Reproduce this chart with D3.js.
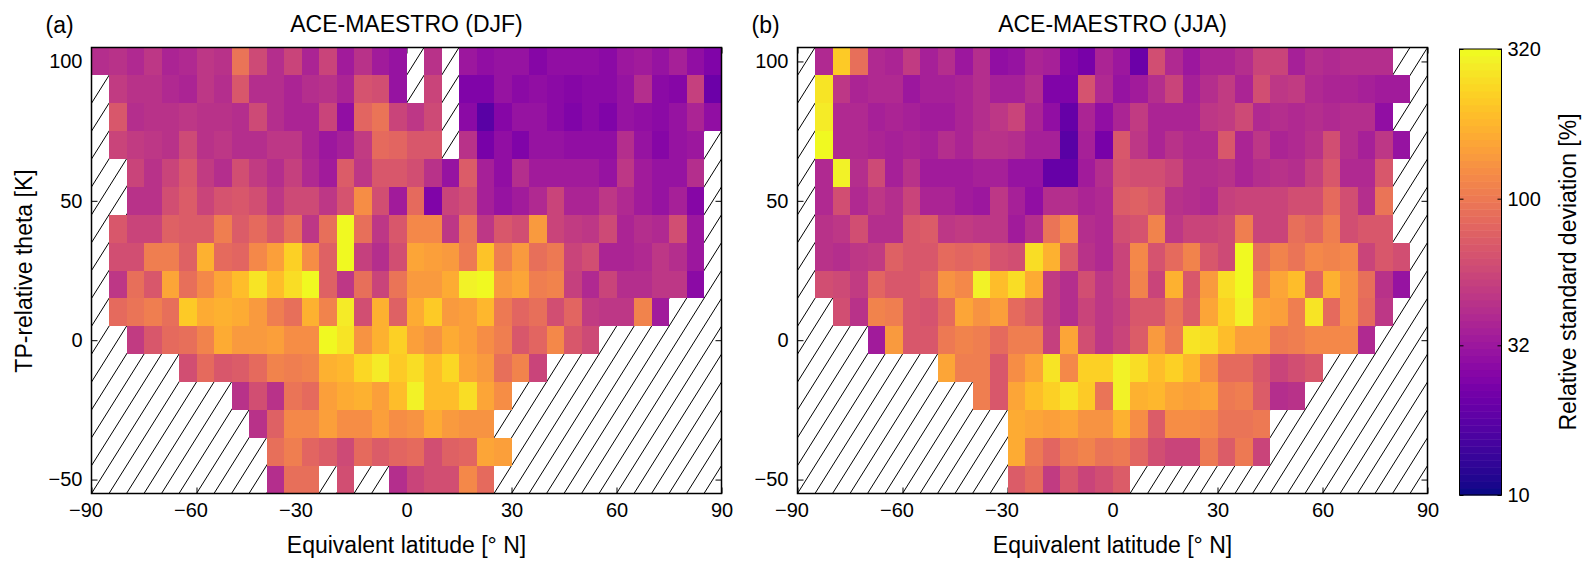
<!DOCTYPE html>
<html>
<head>
<meta charset="utf-8">
<script src="https://cdnjs.cloudflare.com/ajax/libs/d3/7.8.5/d3.min.js"></script>
<style>
  html, body { margin: 0; padding: 0; background: #fff; }
  svg { display: block; font-family: "Liberation Sans", Arial, sans-serif; }
  svg text { fill: #000; }
</style>
</head>
<body>
<div class="container"></div>
<script>
var _ = null;

// bin centres
var latCentres = [-87.5,-82.5,-77.5,-72.5,-67.5,-62.5,-57.5,-52.5,-47.5,-42.5,-37.5,-32.5,-27.5,-22.5,-17.5,-12.5,-7.5,-2.5,
                  2.5,7.5,12.5,17.5,22.5,27.5,32.5,37.5,42.5,47.5,52.5,57.5,62.5,67.5,72.5,77.5,82.5,87.5];
var thetaCentres = [100,90,80,70,60,50,40,30,20,10,0,-10,-20,-30,-40,-50];

var latTicks = [-90,-60,-30,0,30,60,90];
var thetaTicks = [-50,0,50,100];
var colorTicks = [10,32,100,320];

// relative standard deviation [%], one row per theta bin, top row first
var djf = [
  [42,45,39,46,38,39,48,45,95,58,42,55,38,56,34,45,34,30,_,44,_,32,28,30,30,26,28,28,28,27,32,34,30,35,29,25],
  [_,50,44,44,40,38,47,42,68,43,43,38,41,45,38,65,62,30,_,56,_,24,25,30,27,29,27,26,27,27,30,41,27,26,52,21],
  [_,68,42,44,45,48,44,44,42,58,42,37,37,55,28,80,93,55,47,58,_,27,18,26,30,30,27,24,27,25,31,29,27,30,37,28],
  [_,54,49,47,45,58,45,46,42,42,47,48,38,32,35,50,85,82,68,70,_,45,23,28,25,31,30,28,29,28,42,31,26,31,32,_],
  [_,_,55,45,54,70,50,43,60,50,42,52,39,33,72,48,68,68,60,45,31,72,36,28,42,34,33,33,33,30,46,34,30,30,42,_],
  [_,_,44,44,60,72,55,65,68,62,46,58,58,46,65,125,63,33,85,24,55,60,36,30,33,40,55,38,37,46,40,34,31,35,26,_],
  [_,68,56,55,78,72,72,108,72,85,70,88,46,88,315,88,47,68,120,118,46,97,48,70,60,140,54,50,46,57,37,42,39,60,32,_],
  [_,60,62,105,105,75,170,85,80,115,145,225,125,77,320,52,42,62,150,148,135,98,200,105,142,92,100,55,60,38,38,40,48,43,32,_],
  [_,47,88,70,150,90,120,150,195,270,195,250,315,78,48,90,56,95,135,140,165,300,320,140,155,103,112,52,40,54,42,43,46,46,27,_],
  [_,85,97,103,90,210,165,172,163,140,108,88,172,113,285,62,172,78,165,215,135,145,185,98,80,88,63,82,50,47,46,110,33,_,_,_],
  [_,_,50,70,85,88,112,165,137,138,145,122,122,310,270,130,170,225,145,128,160,145,125,108,70,80,115,70,57,_,_,_,_,_,_,_],
  [_,_,_,_,_,60,85,70,72,85,112,108,112,168,182,235,285,215,250,195,240,155,135,90,112,55,_,_,_,_,_,_,_,_,_,_],
  [_,_,_,_,_,_,_,_,45,63,45,95,85,145,160,172,143,190,290,190,195,245,155,122,_,_,_,_,_,_,_,_,_,_,_,_],
  [_,_,_,_,_,_,_,_,_,44,78,115,115,145,122,125,143,125,130,165,140,130,128,_,_,_,_,_,_,_,_,_,_,_,_,_],
  [_,_,_,_,_,_,_,_,_,_,90,108,82,74,58,87,72,82,85,62,75,80,150,148,_,_,_,_,_,_,_,_,_,_,_,_],
  [_,_,_,_,_,_,_,_,_,_,42,90,90,_,62,_,_,41,55,60,60,118,85,_,_,_,_,_,_,_,_,_,_,_,_,_]
];

var jja = [
  [_,40,215,88,40,37,50,36,42,32,41,29,31,38,36,26,23,38,32,21,62,40,32,37,38,41,56,56,35,42,40,42,41,42,_,_],
  [_,262,48,38,40,40,32,36,35,38,42,36,36,42,25,24,65,40,30,34,42,56,36,43,50,38,60,48,50,40,38,38,36,34,34,_],
  [_,285,40,40,35,38,36,34,34,37,42,48,55,38,28,20,38,29,38,50,38,38,37,48,50,57,40,42,40,42,40,42,43,29,_,_],
  [_,315,40,40,38,36,38,35,42,38,45,45,42,35,35,18,35,23,68,46,38,44,40,40,70,38,47,38,40,45,60,41,36,47,31,_],
  [_,39,295,43,58,35,45,33,33,34,35,36,31,31,20,20,33,42,65,60,62,54,42,42,44,38,43,44,41,52,70,39,40,68,_,_],
  [_,40,62,40,48,41,55,38,37,34,32,46,36,29,42,42,37,39,72,76,70,44,42,40,52,55,55,56,62,62,85,62,41,95,_,_],
  [_,45,48,60,42,43,68,72,48,50,48,48,34,43,93,122,41,40,62,65,110,47,55,55,58,105,55,55,92,82,105,60,70,68,_,_],
  [_,44,41,46,49,75,68,68,83,80,83,65,63,255,172,72,45,40,55,120,65,85,112,70,57,320,92,110,93,115,110,115,56,68,60,_],
  [_,63,58,50,80,70,70,78,130,118,295,195,250,165,50,41,63,46,55,110,55,175,70,142,250,315,112,158,195,82,172,130,92,45,30,_],
  [_,_,60,44,110,103,68,65,85,155,130,145,84,74,50,41,55,48,52,68,68,95,72,152,225,290,155,145,103,262,86,128,84,47,_,_],
  [_,_,_,_,34,135,68,68,100,112,108,85,105,105,52,155,62,47,55,72,142,102,270,250,195,145,145,98,105,115,118,118,40,_,_,_],
  [_,_,_,_,_,_,_,_,150,108,108,70,122,150,270,118,225,220,290,250,188,222,180,125,87,85,70,56,60,68,_,_,_,_,_,_],
  [_,_,_,_,_,_,_,_,_,_,105,68,150,190,225,268,215,95,290,175,185,155,145,152,102,103,72,42,45,_,_,_,_,_,_,_],
  [_,_,_,_,_,_,_,_,_,_,_,_,165,155,145,155,128,132,170,125,72,125,125,118,95,93,100,_,_,_,_,_,_,_,_,_],
  [_,_,_,_,_,_,_,_,_,_,_,_,160,102,82,98,112,96,102,82,60,56,56,102,72,100,54,_,_,_,_,_,_,_,_,_],
  [_,_,_,_,_,_,_,_,_,_,_,_,72,85,50,68,56,62,72,_,_,_,_,_,_,_,_,_,_,_,_,_,_,_,_,_]
];

var width = 1595, height = 571;
var top_ = 47.5, bottom = 493.5, panelW = 630;
var tickFont = 20, labelFont = 23;
var latStep = 5, thetaStep = 10;

var svg = d3.select('.container').append('svg')
  .attr('width', width)
  .attr('height', height);

// matlab style colormap: 64 flat bands of plasma on a log axis
var nBands = 64;
var logPos = d3.scaleLog().domain([10, 320]).range([0, 1]).clamp(true);
var colorOf = function (v) {
  var band = Math.min(nBands - 1, Math.floor(logPos(v) * nBands));
  return d3.interpolatePlasma(band / (nBands - 1));
};

var drawPanel = function (id, left, rows, title, letter) {
  var x = d3.scaleLinear().domain([-90, 90]).range([left, left + panelW]);
  var y = d3.scaleLinear().domain([-55, 105]).range([bottom, top_]);
  var g = svg.append('g');

  svg.append('clipPath').attr('id', id)
    .append('rect')
    .attr('x', left).attr('y', top_)
    .attr('width', panelW).attr('height', bottom - top_);

  // hatching for empty bins, runs along the cell diagonals
  var hatchStarts = d3.range(-90 - 16 * latStep, 90, latStep);
  g.append('g').attr('clip-path', 'url(#' + id + ')')
    .selectAll('line').data(hatchStarts).enter().append('line')
    .attr('x1', function (d) { return x(d); })
    .attr('y1', y(-55))
    .attr('x2', function (d) { return x(d + 16 * latStep); })
    .attr('y2', y(105))
    .attr('stroke', '#000')
    .attr('stroke-width', 1);

  // ticks point inwards, the cells sit on top of them
  var axes = [
    d3.axisBottom(x).tickValues(latTicks).tickSize(-6).tickPadding(9),
    d3.axisLeft(y).tickValues(thetaTicks).tickSize(-6).tickPadding(9),
    d3.axisRight(y).tickValues(thetaTicks).tickSize(-6).tickFormat(''),
    d3.axisTop(x).tickValues(latTicks).tickSize(-6).tickFormat('')
  ];
  var shifts = ['translate(0,' + bottom + ')', 'translate(' + left + ',0)',
                'translate(' + (left + panelW) + ',0)', 'translate(0,' + top_ + ')'];
  axes.forEach(function (axis, i) {
    var a = g.append('g').attr('transform', shifts[i]).call(axis);
    a.select('.domain').remove();
    a.selectAll('line').attr('stroke', '#000');
    a.selectAll('text').attr('fill', '#000').style('font-size', tickFont + 'px').style('font-family', 'inherit');
    if (i === 0) {
      a.selectAll('text').attr('dx', function (d) { return d < 0 ? -6 : 0; });
    }
  });

  // cells
  rows.forEach(function (row, r) {
    var theta = thetaCentres[r];
    g.append('g').selectAll('rect')
      .data(row.map(function (v, c) { return { lat: latCentres[c], v: v }; })
        .filter(function (d) { return d.v !== null; }))
      .enter().append('rect')
      .attr('x', function (d) { return x(d.lat - latStep / 2); })
      .attr('y', y(theta + thetaStep / 2))
      .attr('width', x(latStep) - x(0))
      .attr('height', y(0) - y(thetaStep))
      .attr('shape-rendering', 'crispEdges')
      .attr('fill', function (d) { return colorOf(d.v); });
  });

  g.append('rect')
    .attr('x', left).attr('y', top_)
    .attr('width', panelW).attr('height', bottom - top_)
    .attr('fill', 'none')
    .attr('stroke', '#000')
    .attr('stroke-width', 1.5);

  g.append('text')
    .attr('x', left + panelW / 2).attr('y', 32)
    .attr('text-anchor', 'middle')
    .style('font-size', labelFont + 'px')
    .text(title);

  g.append('text')
    .attr('x', left + panelW / 2).attr('y', 553)
    .attr('text-anchor', 'middle')
    .style('font-size', labelFont + 'px')
    .text('Equivalent latitude [° N]');

  g.append('text')
    .attr('x', left - 46).attr('y', 33)
    .style('font-size', labelFont + 'px')
    .text(letter);
};

drawPanel('clipA', 91.5, djf, 'ACE-MAESTRO (DJF)', '(a)');
drawPanel('clipB', 797.5, jja, 'ACE-MAESTRO (JJA)', '(b)');

svg.append('text')
  .attr('transform', 'translate(32,' + 271 + ') rotate(-90)')
  .attr('text-anchor', 'middle')
  .style('font-size', labelFont + 'px')
  .text('TP-relative theta [K]');

// colorbar
var barX = 1459.5, barW = 42;
var barScale = d3.scaleLog().domain([10, 320]).range([495, 49]);
var bandEdges = d3.range(nBands + 1).map(function (i) {
  return 495 - i * (495 - 49) / nBands;
});

svg.append('g').selectAll('rect')
  .data(d3.range(nBands)).enter().append('rect')
  .attr('x', barX)
  .attr('y', function (i) { return bandEdges[i + 1]; })
  .attr('width', barW)
  .attr('height', function (i) { return bandEdges[i] - bandEdges[i + 1] + 0.5; })
  .attr('fill', function (i) { return d3.interpolatePlasma(i / (nBands - 1)); });

svg.append('rect')
  .attr('x', barX).attr('y', 49)
  .attr('width', barW).attr('height', 446)
  .attr('fill', 'none')
  .attr('stroke', '#000')
  .attr('stroke-width', 1);

var colorAxis = svg.append('g')
  .attr('transform', 'translate(' + (barX + barW) + ',0)')
  .call(d3.axisRight(barScale).tickValues(colorTicks).tickFormat(d3.format('d')).tickSize(-4).tickPadding(6));
colorAxis.select('.domain').remove();
colorAxis.selectAll('line').attr('stroke', '#000');
colorAxis.selectAll('text').attr('fill', '#000').style('font-size', tickFont + 'px').style('font-family', 'inherit');

var colorAxisLeft = svg.append('g')
  .attr('transform', 'translate(' + barX + ',0)')
  .call(d3.axisLeft(barScale).tickValues(colorTicks).tickFormat('').tickSize(-4));
colorAxisLeft.select('.domain').remove();
colorAxisLeft.selectAll('line').attr('stroke', '#000');

svg.append('text')
  .attr('transform', 'translate(1576,272) rotate(-90)')
  .attr('text-anchor', 'middle')
  .style('font-size', labelFont + 'px')
  .text('Relative standard deviation [%]');
</script>
</body>
</html>
